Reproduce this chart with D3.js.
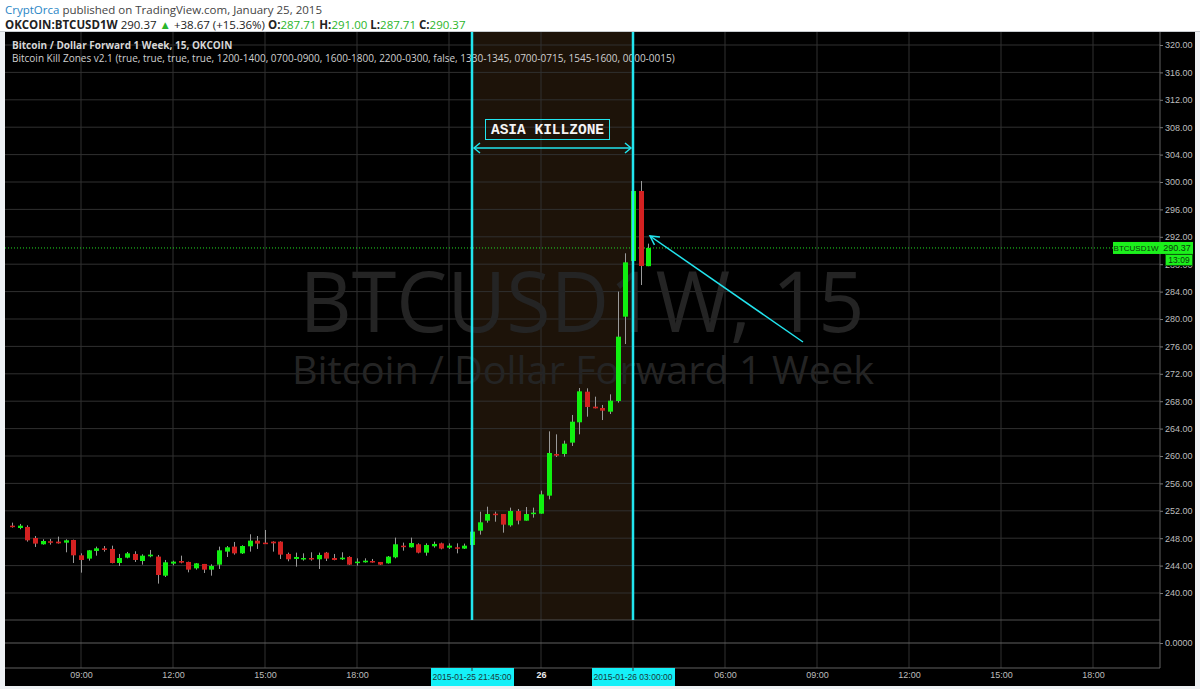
<!DOCTYPE html>
<html lang="en">
<head>
<meta charset="UTF-8">
<title>BTCUSD1W 15</title>
<style>
  body { margin: 0; background: #eef1f4; }
  svg { display: block; }
</style>
</head>
<body>
<script src="https://d3js.org/d3.v7.min.js"></script>
<script>
// 15 minute candles, 2015-01-25 06:45 -> 2015-01-26 03:30 (UTC)
var times = d3.utcMinute.every(15).range(new Date(Date.UTC(2015, 0, 25, 6, 45)), new Date(Date.UTC(2015, 0, 26, 3, 31)));

var opens = [249.83, 249.49, 249.64, 248.03, 247.11, 247.55, 247.50, 247.35, 247.74, 245.50,
  245.02, 246.14, 246.52, 246.43, 244.38, 245.16, 245.70, 244.67, 245.36, 245.31,
  242.53, 244.29, 244.67, 244.53, 243.60, 244.24, 243.41, 244.14, 246.04, 246.77,
  245.79, 246.82, 247.64, 247.35, 247.50, 247.50, 245.70, 244.97, 244.97, 245.11,
  244.92, 245.89, 245.11, 244.92, 245.26, 244.38, 244.48, 244.67, 244.53, 244.33,
  245.21, 246.91, 246.67, 247.11, 245.89, 246.82, 247.25, 246.62, 246.67, 246.48,
  247.01, 249.10, 250.56, 251.58, 251.53, 249.88, 251.97, 250.56, 251.53, 251.58,
  254.21, 260.29, 260.29, 261.95, 264.92, 269.39, 267.20, 267.01, 266.47, 268.03,
  280.34, 288.47, 298.69, 287.71];
var highs = [250.27, 250.08, 249.88, 248.32, 247.84, 247.89, 248.23, 247.84, 247.79, 245.79,
  246.28, 246.77, 246.86, 246.91, 245.70, 245.99, 246.09, 245.65, 246.28, 245.55,
  244.82, 244.72, 245.45, 244.58, 244.38, 244.24, 244.19, 246.77, 246.86, 247.45,
  246.96, 248.57, 248.32, 249.20, 247.55, 247.55, 245.89, 245.89, 245.79, 245.94,
  245.89, 245.99, 245.70, 245.94, 245.36, 245.06, 245.06, 244.97, 244.53, 245.40,
  248.08, 247.35, 248.08, 247.25, 247.25, 247.50, 247.35, 247.25, 247.25, 247.21,
  249.05, 251.87, 252.60, 251.87, 251.53, 252.46, 252.26, 252.55, 252.46, 254.94,
  263.60, 263.16, 262.24, 265.99, 269.93, 269.88, 268.66, 267.45, 269.00, 284.00,
  289.59, 299.00, 300.15, 291.00];
var lows = [249.54, 249.30, 247.50, 246.72, 247.06, 247.06, 247.21, 245.94, 244.38, 242.97,
  244.72, 245.45, 246.04, 244.33, 243.95, 245.06, 244.53, 244.14, 245.21, 241.37,
  242.34, 244.04, 244.33, 243.02, 243.41, 242.92, 242.53, 243.51, 245.26, 245.60,
  245.70, 246.04, 246.43, 247.21, 246.04, 244.97, 244.63, 243.85, 244.72, 244.72,
  243.51, 244.67, 244.77, 244.82, 244.09, 243.99, 244.43, 244.43, 244.09, 244.29,
  245.06, 246.18, 246.62, 245.79, 245.45, 246.62, 246.38, 246.43, 245.79, 246.43,
  246.96, 248.52, 250.27, 250.41, 248.81, 249.68, 250.02, 250.56, 251.00, 251.58,
  253.67, 259.85, 259.90, 261.46, 263.16, 265.74, 266.96, 265.25, 266.13, 267.79,
  276.35, 288.30, 284.96, 287.71];
var closes = [249.69, 249.83, 247.69, 247.21, 247.59, 247.45, 247.25, 247.69, 245.50, 244.82,
  246.23, 246.52, 246.28, 244.38, 245.11, 245.79, 244.82, 245.45, 245.60, 242.63,
  244.48, 244.58, 244.43, 243.41, 244.33, 243.41, 243.95, 246.23, 246.67, 245.79,
  246.86, 247.64, 247.21, 247.21, 247.25, 245.60, 244.92, 245.26, 245.11, 245.02,
  245.55, 245.02, 244.82, 245.16, 244.14, 244.58, 244.72, 244.48, 244.14, 245.31,
  247.11, 246.72, 247.30, 245.89, 247.01, 247.16, 246.48, 246.91, 246.48, 246.91,
  248.96, 250.32, 251.53, 251.39, 249.98, 251.97, 250.56, 251.53, 251.73, 254.40,
  260.44, 260.05, 261.80, 265.01, 269.44, 267.15, 266.96, 266.62, 268.08, 277.42,
  288.27, 298.69, 287.74, 290.37];

var priceTicks = d3.range(240, 321, 4);
var timeTicks = [
  Date.UTC(2015, 0, 25, 9), Date.UTC(2015, 0, 25, 12), Date.UTC(2015, 0, 25, 15), Date.UTC(2015, 0, 25, 18),
  Date.UTC(2015, 0, 26, 0), Date.UTC(2015, 0, 26, 6), Date.UTC(2015, 0, 26, 9), Date.UTC(2015, 0, 26, 12),
  Date.UTC(2015, 0, 26, 15), Date.UTC(2015, 0, 26, 18)].map(function (d) { return new Date(d); });
var gridTimes = timeTicks.concat([new Date(Date.UTC(2015, 0, 25, 21)), new Date(Date.UTC(2015, 0, 26, 3))]);
var zoneStart = new Date(Date.UTC(2015, 0, 25, 21, 45));
var zoneEnd = new Date(Date.UTC(2015, 0, 26, 3, 0));
var lastPrice = 290.37;

var W = 1200, H = 689;
var plotLeft = 5, plotRight = 1160, plotTop = 32, paneBottom = 620, plotBottom = 668;

var svg = d3.select('body').append('svg').attr('width', W).attr('height', H)
  .style('font-family', '"Open Sans", "Liberation Sans", sans-serif');

// header
svg.append('rect').attr('x', 0).attr('y', 0).attr('width', W).attr('height', plotTop).attr('fill', '#fff');
var h1 = svg.append('text').attr('x', 5).attr('y', 13.5).attr('font-size', 11.5).attr('fill', '#444');
h1.append('tspan').attr('fill', '#2a86c5').text('CryptOrca');
h1.append('tspan').text(' published on TradingView.com, January 25, 2015');
var h2 = svg.append('text').attr('x', 5).attr('y', 28.5).attr('font-size', 11.5).attr('fill', '#222');
h2.append('tspan').attr('font-weight', 'bold').text('OKCOIN:BTCUSD1W');
h2.append('tspan').text(' 290.37 ');
h2.append('tspan').attr('fill', '#2bb52b').text('▲');
h2.append('tspan').text(' +38.67 (+15.36%) ');
[['O:', '287.71'], ['H:', '291.00'], ['L:', '287.71'], ['C:', '290.37']].forEach(function (p) {
  h2.append('tspan').attr('font-weight', 'bold').text(' ' + p[0]);
  h2.append('tspan').attr('fill', '#2bb52b').text(p[1]);
});

// chart frame
svg.append('rect').attr('x', plotLeft).attr('y', plotTop).attr('width', 1195 - plotLeft).attr('height', 686 - plotTop)
  .attr('fill', '#000');
svg.append('line').attr('x1', 0).attr('x2', W).attr('y1', plotTop - 0.5).attr('y2', plotTop - 0.5).attr('stroke', '#c8ccd0');

var x = d3.scaleUtc()
  .domain([new Date(Date.UTC(2015, 0, 26, 0)), new Date(Date.UTC(2015, 0, 26, 3))])
  .range([541, 633]);
var y = d3.scaleLinear().domain([240, 320]).range([593, 45]);
var ySub = d3.scaleLinear().domain([-1, 1]).range([666, 620]);

// kill zone background
svg.append('rect').attr('x', x(zoneStart)).attr('y', plotTop)
  .attr('width', x(zoneEnd) - x(zoneStart)).attr('height', paneBottom - plotTop).attr('fill', '#1d1309');

// grid
svg.append('g').selectAll('line').data(priceTicks).enter().append('line')
  .attr('x1', plotLeft).attr('x2', plotRight).attr('y1', function (d) { return y(d); }).attr('y2', function (d) { return y(d); })
  .attr('stroke', '#303030');
svg.append('g').selectAll('line').data(gridTimes).enter().append('line')
  .attr('y1', plotTop).attr('y2', plotBottom).attr('x1', function (d) { return x(d); }).attr('x2', function (d) { return x(d); })
  .attr('stroke', '#303030');

// watermark
svg.append('text').attr('x', 582).attr('y', 332).attr('text-anchor', 'middle')
  .attr('font-size', 84).attr('fill', '#242424').attr('textLength', 565).attr('lengthAdjust', 'spacingAndGlyphs')
  .text('BTCUSD1W, 15');
svg.append('text').attr('x', 583).attr('y', 384).attr('text-anchor', 'middle')
  .attr('font-size', 38).attr('fill', '#242424').attr('textLength', 582).attr('lengthAdjust', 'spacingAndGlyphs')
  .text('Bitcoin / Dollar Forward 1 Week');

// pane separators
svg.append('line').attr('x1', plotLeft).attr('x2', plotRight).attr('y1', paneBottom).attr('y2', paneBottom).attr('stroke', '#505050');
svg.append('line').attr('x1', plotLeft).attr('x2', plotRight).attr('y1', ySub(0)).attr('y2', ySub(0)).attr('stroke', '#606060');
svg.append('line').attr('x1', plotLeft).attr('x2', plotRight).attr('y1', plotBottom).attr('y2', plotBottom).attr('stroke', '#606060');
svg.append('line').attr('x1', plotRight).attr('x2', plotRight).attr('y1', plotTop).attr('y2', plotBottom).attr('stroke', '#606060');

// legend
svg.append('text').attr('x', 12).attr('y', 49).attr('font-size', 10).attr('font-weight', 'bold').attr('fill', '#d6d6d6')
  .text('Bitcoin / Dollar Forward 1 Week, 15, OKCOIN');
svg.append('text').attr('x', 12).attr('y', 62).attr('font-size', 10).attr('fill', '#d0d0d0')
  .text('Bitcoin Kill Zones v2.1 (true, true, true, true, 1200-1400, 0700-0900, 1600-1800, 2200-0300, false, 1330-1345, 0700-0715, 1545-1600, 0000-0015)');

// last price line
svg.append('line').attr('x1', plotLeft).attr('x2', plotRight).attr('y1', y(lastPrice)).attr('y2', y(lastPrice))
  .attr('stroke', '#22dd22').attr('stroke-dasharray', '1,2');

// candles
var bars = times.map(function (t, i) {
  return { t: t, o: opens[i], h: highs[i], l: lows[i], c: closes[i] };
});
var bw = 5;
var g = svg.append('g');
g.selectAll('line.wick').data(bars).enter().append('line').attr('class', 'wick')
  .attr('x1', function (d) { return Math.round(x(d.t)) + 0.5; }).attr('x2', function (d) { return Math.round(x(d.t)) + 0.5; })
  .attr('y1', function (d) { return y(d.h); }).attr('y2', function (d) { return y(d.l); })
  .attr('stroke', '#9a9a9a');
g.selectAll('rect').data(bars).enter().append('rect')
  .attr('x', function (d) { return Math.round(x(d.t)) - 2; })
  .attr('y', function (d) { return y(Math.max(d.o, d.c)); })
  .attr('width', bw)
  .attr('height', function (d) { return Math.max(1.5, Math.abs(y(d.o) - y(d.c))); })
  .attr('fill', function (d) { return d.c >= d.o ? '#10f010' : '#d42121'; });

// kill zone edges
var cyan = '#22e4ee';
[zoneStart, zoneEnd].forEach(function (t) {
  svg.append('line').attr('x1', x(t)).attr('x2', x(t)).attr('y1', plotTop).attr('y2', paneBottom)
    .attr('stroke', cyan).attr('stroke-width', 2.5);
});

// ASIA KILLZONE label and span arrow
var zx0 = x(zoneStart) + 2, zx1 = x(zoneEnd) - 2, zy = 148;
svg.append('line').attr('x1', zx0).attr('x2', zx1).attr('y1', zy).attr('y2', zy).attr('stroke', cyan).attr('stroke-width', 1.5);
svg.append('path').attr('d', 'M' + (zx0 + 6) + ',' + (zy - 5) + 'L' + zx0 + ',' + zy + 'L' + (zx0 + 6) + ',' + (zy + 5))
  .attr('fill', 'none').attr('stroke', cyan).attr('stroke-width', 1.5);
svg.append('path').attr('d', 'M' + (zx1 - 6) + ',' + (zy - 5) + 'L' + zx1 + ',' + zy + 'L' + (zx1 - 6) + ',' + (zy + 5))
  .attr('fill', 'none').attr('stroke', cyan).attr('stroke-width', 1.5);
svg.append('rect').attr('x', 485.5).attr('y', 119.5).attr('width', 124).attr('height', 20)
  .attr('fill', 'none').attr('stroke', cyan);
svg.append('text').attr('x', 547.5).attr('y', 134).attr('text-anchor', 'middle')
  .attr('font-family', '"Courier New", "Liberation Mono", "DejaVu Sans Mono", monospace').attr('font-weight', 'bold')
  .attr('font-size', 14.5).attr('fill', '#f4f4f4').text('ASIA KILLZONE');

// pointer arrow to the top
var ax0 = 803, ay0 = 342, ax1 = 650, ay1 = 236;
svg.append('line').attr('x1', ax0).attr('y1', ay0).attr('x2', ax1).attr('y2', ay1).attr('stroke', cyan).attr('stroke-width', 1.5);
var ang = Math.atan2(ay0 - ay1, ax0 - ax1);
var hl = 10, spread = 0.5;
svg.append('path')
  .attr('d', 'M' + (ax1 + hl * Math.cos(ang - spread)) + ',' + (ay1 + hl * Math.sin(ang - spread)) +
    'L' + ax1 + ',' + ay1 + 'L' + (ax1 + hl * Math.cos(ang + spread)) + ',' + (ay1 + hl * Math.sin(ang + spread)))
  .attr('fill', 'none').attr('stroke', cyan).attr('stroke-width', 1.5);

// right price axis
var axisFont = '"Liberation Sans", Arial, sans-serif';
var yAxis = d3.axisRight(y).tickValues(priceTicks).tickFormat(d3.format('.2f')).tickSize(3).tickPadding(2);
var gy = svg.append('g').attr('transform', 'translate(' + plotRight + ',0)').call(yAxis);
gy.select('.domain').remove();
gy.selectAll('line').attr('stroke', '#777');
gy.selectAll('text').attr('fill', '#bdbdbd').attr('font-size', 9).attr('font-family', axisFont);

// sub pane value
var gs = svg.append('g').attr('transform', 'translate(' + plotRight + ',0)')
  .call(d3.axisRight(ySub).tickValues([0]).tickFormat(d3.format('.4f')).tickSize(3).tickPadding(2));
gs.select('.domain').remove();
gs.selectAll('line').attr('stroke', '#777');
gs.selectAll('text').attr('fill', '#bdbdbd').attr('font-size', 9).attr('font-family', axisFont);

// bottom time axis
var fmtHour = d3.utcFormat('%H:%M');
var xAxis = d3.axisBottom(x).tickValues(timeTicks).tickSize(0).tickPadding(4)
  .tickFormat(function (d) { return d.getUTCHours() === 0 ? d3.utcFormat('%e')(d).trim() : fmtHour(d); });
var gx = svg.append('g').attr('transform', 'translate(0,' + plotBottom + ')').call(xAxis);
gx.select('.domain').remove();
gx.selectAll('text').attr('font-size', 9).attr('font-family', axisFont)
  .attr('font-weight', function (d) { return d.getUTCHours() === 0 ? 'bold' : null; })
  .attr('fill', function (d) { return d.getUTCHours() === 0 ? '#eee' : '#bdbdbd'; });

// kill zone time labels
var fmtFull = d3.utcFormat('%Y-%m-%d %H:%M:%S');
[zoneStart, zoneEnd].forEach(function (t) {
  var cx = x(t);
  svg.append('rect').attr('x', cx - 41).attr('y', plotBottom).attr('width', 83).attr('height', 18).attr('fill', '#14f0f8');
  svg.append('line').attr('x1', cx).attr('x2', cx).attr('y1', plotBottom).attr('y2', plotBottom + 3).attr('stroke', '#333');
  svg.append('text').attr('x', cx).attr('y', plotBottom + 12).attr('text-anchor', 'middle')
    .attr('font-size', 8.5).attr('fill', '#1a3a3a').attr('font-family', axisFont)
    .text(fmtFull(t));
});

// last price labels
var ly = y(lastPrice);
svg.append('rect').attr('x', 1113).attr('y', ly - 6).attr('width', 47).attr('height', 12).attr('fill', '#1cf01c');
svg.append('text').attr('x', 1136).attr('y', ly + 3).attr('text-anchor', 'middle').attr('font-size', 8)
  .attr('font-family', axisFont).attr('fill', '#0b3a0b').text('BTCUSD1W');
svg.append('rect').attr('x', plotRight).attr('y', ly - 6).attr('width', 33).attr('height', 12).attr('fill', '#1cf01c');
svg.append('text').attr('x', 1177).attr('y', ly + 3.5).attr('text-anchor', 'middle').attr('font-size', 9)
  .attr('font-family', axisFont).attr('fill', '#0b3a0b').text(d3.format('.2f')(lastPrice));
svg.append('rect').attr('x', 1165.5).attr('y', ly + 6.5).attr('width', 27).attr('height', 11)
  .attr('fill', '#1cf01c').attr('stroke', '#0c5c0c');
svg.append('text').attr('x', 1179).attr('y', ly + 15).attr('text-anchor', 'middle').attr('font-size', 8.5)
  .attr('font-family', axisFont).attr('fill', '#0b3a0b').text('13:09');
</script>
</body>
</html>
